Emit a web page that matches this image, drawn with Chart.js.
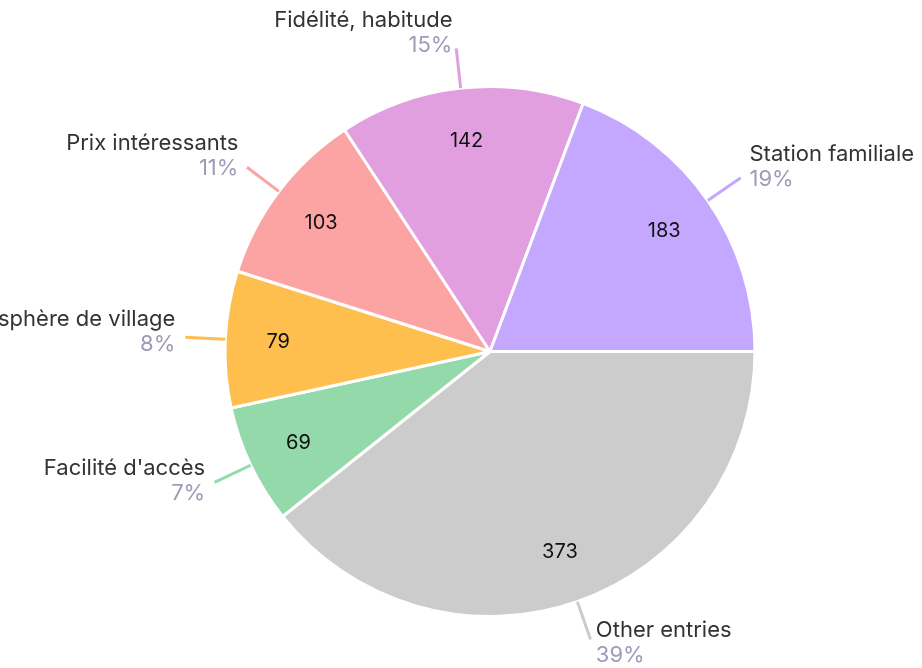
<!DOCTYPE html>
<html>
<head>
<meta charset="utf-8">
<script src="https://cdn.jsdelivr.net/npm/chart.js@4.4.1/dist/chart.umd.min.js"></script>
<style>
  html, body { margin: 0; padding: 0; background: #fff; }
  #wrap { width: 922px; height: 668px; }
</style>
</head>
<body>
<div id="wrap"><canvas id="chart-pie" width="922" height="668"></canvas></div>
<script>
// ─── Dados ────────────────────────────────────────────────────────────────────
// ordem de desenho: sentido horário a partir das 3 horas
const categorias = ['Other entries', "Facilité d'accès", 'Atmosphère de village', 'Prix intéressants', 'Fidélité, habitude', 'Station familiale'];
const valores    = [373, 69, 79, 103, 142, 183];
const cores      = ['#cccccc', '#93d9aa', '#ffbf4f', '#fca3a3', '#e29fe0', '#c4a8ff'];

const FONTE = 'Inter, "Noto Sans", sans-serif';
const total = valores.reduce((a, b) => a + b, 0);

// ─── Plugin: rótulos externos + valores internos ──────────────────────────────
const rotulosPlugin = {
  id: 'rotulos',
  afterDatasetsDraw(chart) {
    const ctx = chart.ctx;
    const arcs = chart.getDatasetMeta(0).data;
    arcs.forEach((arc, i) => {
      const { x, y, startAngle, endAngle, outerRadius } = arc.getProps(['x', 'y', 'startAngle', 'endAngle', 'outerRadius'], true);
      const meio = (startAngle + endAngle) / 2;
      const cos = Math.cos(meio), sin = Math.sin(meio);

      // valor dentro da fatia
      ctx.save();
      ctx.font = `20px ${FONTE}`;
      ctx.fillStyle = '#111';
      ctx.textAlign = 'center';
      ctx.textBaseline = 'middle';
      ctx.fillText(valores[i], x + cos * outerRadius * 0.8, y + sin * outerRadius * 0.8);

      // linha guia
      const r0 = outerRadius, r1 = outerRadius + 40;
      ctx.strokeStyle = cores[i];
      ctx.lineWidth = 3;
      ctx.beginPath();
      ctx.moveTo(x + cos * r0, y + sin * r0);
      ctx.lineTo(x + cos * r1, y + sin * r1);
      ctx.stroke();

      // texto
      const qx = x + cos * r1, qy = y + sin * r1;
      const dir = cos >= 0 ? 1 : -1;
      const tx = qx + dir * (3 + 7 * Math.abs(cos));
      const pctY = qy + 7 + 10 * sin;
      ctx.textAlign = dir > 0 ? 'left' : 'right';
      ctx.textBaseline = 'middle';
      ctx.font = `22px ${FONTE}`;
      ctx.fillStyle = '#9d9cb8';
      ctx.fillText(Math.round(valores[i] / total * 100) + '%', tx, pctY);
      ctx.fillStyle = '#333333';
      ctx.fillText(categorias[i], tx, pctY - 25);
      ctx.restore();
    });
  },
};

// ─── Gráfico ──────────────────────────────────────────────────────────────────
new Chart(document.getElementById('chart-pie'), {
  type: 'pie',
  data: {
    labels: categorias,
    datasets: [{
      data: valores,
      backgroundColor: cores,
      borderColor: '#ffffff',
      borderWidth: 3,
      hoverOffset: 0,
    }],
  },
  options: {
    responsive: false,
    animation: false,
    events: [],
    rotation: 90,
    layout: { padding: { top: 85, bottom: 50, left: 140, right: 82 } },
    plugins: {
      legend: { display: false },
      tooltip: { enabled: false },
    },
  },
  plugins: [rotulosPlugin],
});
</script>
</body>
</html>
